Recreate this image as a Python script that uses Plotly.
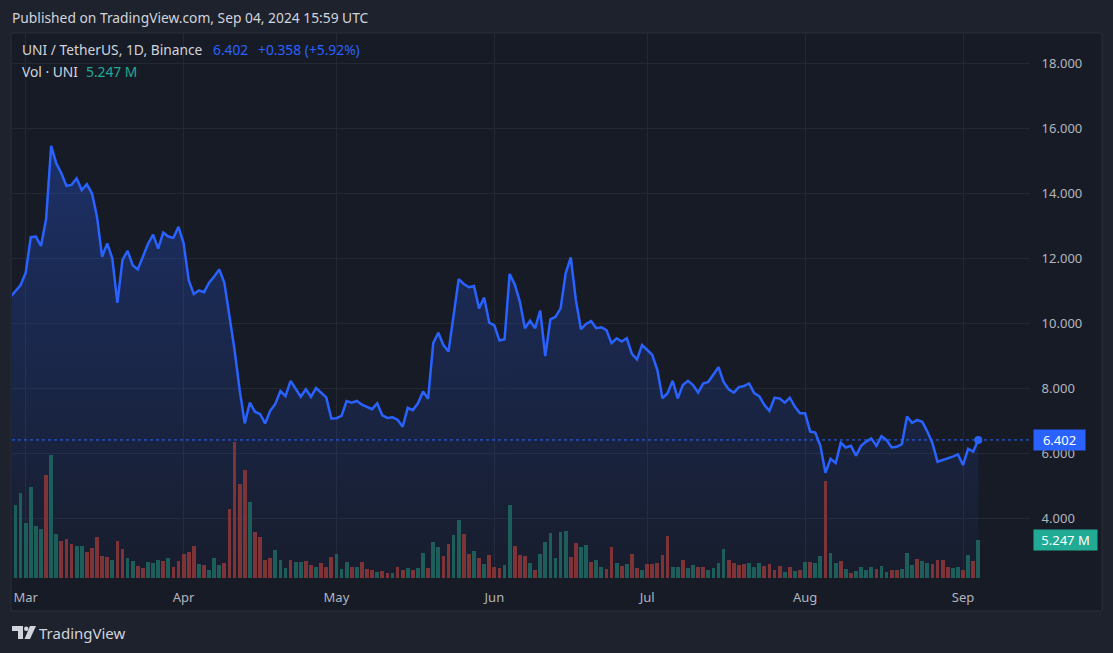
import pandas as pd
import plotly.graph_objects as go

# ---------------- data ----------------
start_date = "2024-02-27"
end_date = "2024-09-04"

prices_feb = [10.80, 10.98, 11.17]
prices_mar = [11.55, 12.64, 12.66, 12.37, 13.19, 15.45, 14.91, 14.61, 14.22, 14.25,
              14.45, 14.09, 14.27, 13.99, 13.27, 12.04, 12.45, 11.99, 10.62, 11.94,
              12.22, 11.78, 11.65, 12.04, 12.43, 12.72, 12.29, 12.78, 12.66, 12.62, 12.96]
prices_apr = [12.45, 11.32, 10.89, 11.00, 10.95, 11.24, 11.43, 11.65, 11.24, 10.19,
              9.17, 7.94, 6.91, 7.55, 7.27, 7.20, 6.91, 7.30, 7.51, 7.91,
              7.75, 8.22, 7.96, 7.73, 7.96, 7.73, 8.00, 7.84, 7.71, 7.06]
prices_may = [7.07, 7.14, 7.60, 7.55, 7.60, 7.49, 7.42, 7.35, 7.53, 7.16,
              7.08, 7.10, 7.02, 6.81, 7.39, 7.32, 7.53, 7.89, 7.67, 9.38,
              9.70, 9.32, 9.12, 10.30, 11.35, 11.20, 11.10, 11.14, 10.45, 10.78, 10.01]
prices_jun = [9.93, 9.46, 9.50, 11.51, 11.19, 10.66, 9.84, 10.07, 9.84, 10.38,
              8.98, 10.11, 10.19, 10.45, 11.53, 12.02, 10.71, 9.81, 9.97, 10.06,
              9.84, 9.87, 9.78, 9.38, 9.53, 9.43, 9.53, 9.05, 8.88, 9.32]
prices_jul = [9.17, 9.02, 8.55, 7.68, 7.84, 8.22, 7.68, 8.09, 8.22, 8.09,
              7.86, 8.14, 8.19, 8.43, 8.64, 8.19, 7.96, 7.86, 8.03, 8.06,
              8.14, 7.84, 7.75, 7.48, 7.30, 7.70, 7.68, 7.55, 7.70, 7.42, 7.22]
prices_aug = [7.22, 6.66, 6.63, 6.22, 5.39, 5.82, 5.69, 6.32, 6.17, 6.22,
              5.92, 6.22, 6.35, 6.45, 6.22, 6.52, 6.40, 6.17, 6.19, 6.27,
              7.12, 6.93, 7.02, 6.96, 6.66, 6.30, 5.73, 5.78, 5.84, 5.89, 5.96]
prices_sep = [5.63, 6.13, 6.044, 6.402]

# volume in millions of UNI
vol_feb = [9.0, 10.12, 11.79]
vol_mar = [7.61, 12.63, 7.20, 6.78, 14.30, 17.09, 6.08, 5.11, 5.39, 4.69,
           4.41, 4.41, 3.58, 4.13, 5.66, 3.02, 2.88, 2.46, 5.11, 3.99,
           2.74, 2.32, 1.63, 1.35, 2.18, 2.04, 2.46, 2.32, 2.74, 1.49, 2.32]
vol_apr = [3.30, 3.58, 4.41, 1.90, 1.76, 1.07, 2.74, 1.76, 2.04, 9.56,
           18.90, 13.05, 15.00, 10.54, 6.36, 5.66, 2.46, 2.74, 3.85, 2.46,
           1.35, 2.46, 2.18, 2.18, 2.32, 1.76, 1.49, 2.04, 1.49, 2.88]
vol_may = [3.30, 1.21, 2.18, 1.49, 1.49, 2.18, 1.21, 1.07, 0.79, 0.93,
           0.65, 0.65, 1.49, 1.07, 1.35, 1.07, 1.35, 3.44, 1.35, 4.97,
           4.27, 3.02, 4.69, 5.94, 8.03, 6.08, 3.30, 3.71, 2.74, 1.90, 3.16]
vol_jun = [1.49, 1.35, 1.76, 10.12, 4.41, 3.16, 3.02, 2.04, 1.07, 3.30,
           4.97, 6.22, 2.74, 6.36, 6.50, 2.88, 4.83, 4.27, 4.55, 2.18,
           2.46, 1.49, 1.21, 4.27, 2.04, 1.63, 1.90, 3.30, 1.35, 1.07]
vol_jul = [1.90, 1.90, 2.04, 3.16, 5.80, 1.49, 1.49, 2.46, 1.35, 1.76,
           1.49, 1.49, 1.07, 1.35, 2.04, 3.99, 2.46, 2.04, 1.76, 1.90,
           2.04, 1.49, 2.04, 1.63, 1.90, 1.07, 1.63, 0.79, 1.49, 0.93, 1.07]
vol_aug = [2.18, 2.18, 2.04, 3.02, 13.46, 3.44, 2.04, 2.32, 1.21, 0.65,
           0.93, 1.49, 1.07, 1.49, 1.21, 1.63, 0.79, 1.07, 1.07, 1.21,
           3.44, 1.76, 2.60, 2.32, 2.04, 1.90, 2.46, 2.46, 1.49, 1.35, 1.49]
vol_sep = [1.07, 3.16, 2.32, 5.247]

# bar direction: u = up (teal), d = down (red)
dir_feb = "uuu"
dir_mar = "uuuuduuddduudddddudduudduuududdu"[:31]
dir_apr = "ddduduuudddddudddduuuduudduddd"
dir_may = "uuududdduddudduduuduudduuddudud"
dir_jun = "dduuddduduuuuuudduuduuddududdu"
dir_jul = "ddddduuduudduuuudddduuuddddudud"
dir_aug = "uduuduududuuuuduudduuuduudddduu"
dir_sep = "dudu"

price_ticks = [4, 6, 8, 10, 12, 14, 16, 18]
month_ticks = ["2024-03-01", "2024-04-01", "2024-05-01", "2024-06-01",
               "2024-07-01", "2024-08-01", "2024-09-01"]

# ---------------- assemble ----------------
dates = pd.date_range(start_date, end_date, freq="D")
prices = prices_feb + prices_mar + prices_apr + prices_may + prices_jun + prices_jul + prices_aug + prices_sep
volumes = vol_feb + vol_mar + vol_apr + vol_may + vol_jun + vol_jul + vol_aug + vol_sep
dirs = dir_feb + dir_mar + dir_apr + dir_may + dir_jun + dir_jul + dir_aug + dir_sep
n = min(len(dates), len(prices), len(volumes))
dates = dates[:n]
prices = prices[:n]
volumes = volumes[:n]
dirs = (dirs + "u" * n)[:n]

UP = "#1d5e5b"
DOWN = "#7e3337"
bar_colors = [UP if c == "u" else DOWN for c in dirs]

W, H = 1113, 653
L, R, T, B = 12, 1030, 33, 578


def px_x(px):
    return (px - L) / (R - L)


def px_y(py):
    return (B - py) / (B - T)


FONT = "'Noto Sans', 'Trebuchet MS', sans-serif"

fig = go.Figure()

# area fill (price scale)
fig.add_trace(go.Scatter(
    x=dates, y=prices, mode="lines", line=dict(width=0, color="rgba(0,0,0,0)"),
    fill="tozeroy",
    fillgradient=dict(type="vertical",
                      colorscale=[[0, "rgba(41,98,255,0.03)"], [1, "rgba(41,98,255,0.30)"]],
                      start=2.15, stop=15.5),
    yaxis="y", hoverinfo="skip", showlegend=False))

# volume bars
fig.add_trace(go.Bar(
    x=dates, y=volumes, marker=dict(color=bar_colors, line=dict(width=0)),
    width=0.74 * 86400000, yaxis="y2", showlegend=False))

# price line
fig.add_trace(go.Scatter(
    x=dates, y=prices, mode="lines", line=dict(color="#2962ff", width=2.5),
    yaxis="y3", showlegend=False))
fig.add_trace(go.Scatter(
    x=[dates[-1]], y=[prices[-1]], mode="markers",
    marker=dict(color="#2962ff", size=8), yaxis="y3", showlegend=False))

price_range = [2.154, 18.923]
grid = "#242833"

fig.update_layout(
    width=W, height=H,
    margin=dict(l=L, r=W - R, t=T, b=H - B),
    paper_bgcolor="#1e222d",
    plot_bgcolor="rgba(0,0,0,0)",
    font=dict(family=FONT, color="#b2b5be", size=13),
    bargap=0,
    xaxis=dict(type="date", range=["2024-02-27 07:27", "2024-09-14 03:36"],
               tickvals=month_ticks, tickformat="%b", showgrid=True, gridcolor=grid,
               gridwidth=1, zeroline=False, showline=False, ticks="outside",
               ticklen=7, tickcolor="rgba(0,0,0,0)",
               tickfont=dict(color="#b2b5be", size=13, family=FONT)),
    yaxis=dict(side="right", range=price_range, tickvals=price_ticks,
               ticktext=[f"{v:.3f}" for v in price_ticks], showgrid=True,
               gridcolor=grid, zeroline=False, showline=False, ticks="outside",
               ticklen=8, tickcolor="rgba(0,0,0,0)",
               tickfont=dict(color="#b2b5be", size=13, family=FONT)),
    yaxis2=dict(overlaying="y", range=[0, 75.85], visible=False, showgrid=False),
    yaxis3=dict(overlaying="y", range=price_range, visible=False, showgrid=False),
)

shapes = [
    # chart panel
    dict(type="rect", xref="paper", yref="paper", x0=px_x(11), x1=px_x(1102),
         y0=px_y(611), y1=px_y(33), fillcolor="#171b26",
         line=dict(color="#2a2e39", width=1), layer="below"),
    # last price dotted line
    dict(type="line", xref="paper", yref="y", x0=0, x1=1, y0=prices[-1], y1=prices[-1],
         line=dict(color="#2962ff", width=1, dash="dot")),
    # logo pieces
    dict(type="path", xref="paper", yref="paper",
         path="M {} {} L {} {} L {} {} L {} {} L {} {} L {} {} Z".format(
             px_x(12), px_y(626), px_x(23), px_y(626), px_x(23), px_y(639),
             px_x(18), px_y(639), px_x(18), px_y(631), px_x(12), px_y(631)),
         fillcolor="#d1d4dc", line=dict(width=0)),
    dict(type="circle", xref="paper", yref="paper", x0=px_x(24), x1=px_x(28.5),
         y0=px_y(631), y1=px_y(626.5), fillcolor="#d1d4dc", line=dict(width=0)),
    dict(type="path", xref="paper", yref="paper",
         path="M {} {} L {} {} L {} {} L {} {} Z".format(
             px_x(30), px_y(626), px_x(36), px_y(626), px_x(30), px_y(639),
             px_x(24.5), px_y(639)),
         fillcolor="#d1d4dc", line=dict(width=0)),
]
fig.update_layout(shapes=shapes)

ann = []


def text(px, py, s, color, size=13, anchor="left", **kw):
    ann.append(dict(xref="paper", yref="paper", x=px_x(px), y=px_y(py), text=s,
                    showarrow=False, xanchor=anchor, yanchor="middle",
                    font=dict(color=color, size=size, family=FONT), **kw))


text(10, 18, "Published on TradingView.com, Sep 04, 2024 15:59 UTC", "#d1d4dc", 13.8)
text(20, 50, "UNI / TetherUS, 1D, Binance", "#d1d4dc", 13.8)
text(211, 50, "6.402", "#2962ff", 13.8)
text(256, 50, "+0.358 (+5.92%)", "#2962ff", 13.8)
text(20, 72, "Vol · UNI", "#d1d4dc", 13.8)
text(84, 72, "5.247 M", "#22ab94", 13.8)
text(37, 633, "TradingView", "#d1d4dc", 15)

ann.append(dict(xref="paper", yref="y3", x=px_x(1033), y=prices[-1], text="6.402",
                showarrow=False, xanchor="left", yanchor="middle",
                bgcolor="#2962ff", width=47, height=16, borderpad=2,
                font=dict(color="#ffffff", size=13, family=FONT)))
ann.append(dict(xref="paper", yref="y2", x=px_x(1033), y=volumes[-1], text="5.247 M",
                showarrow=False, xanchor="left", yanchor="middle",
                bgcolor="#22ab94", width=59, height=16, borderpad=2,
                font=dict(color="#ffffff", size=13, family=FONT)))
fig.update_layout(annotations=ann)

fig.write_html("out.html", config={"displayModeBar": False},
               post_script="document.body.style.margin='0';document.body.style.overflow='hidden';")
